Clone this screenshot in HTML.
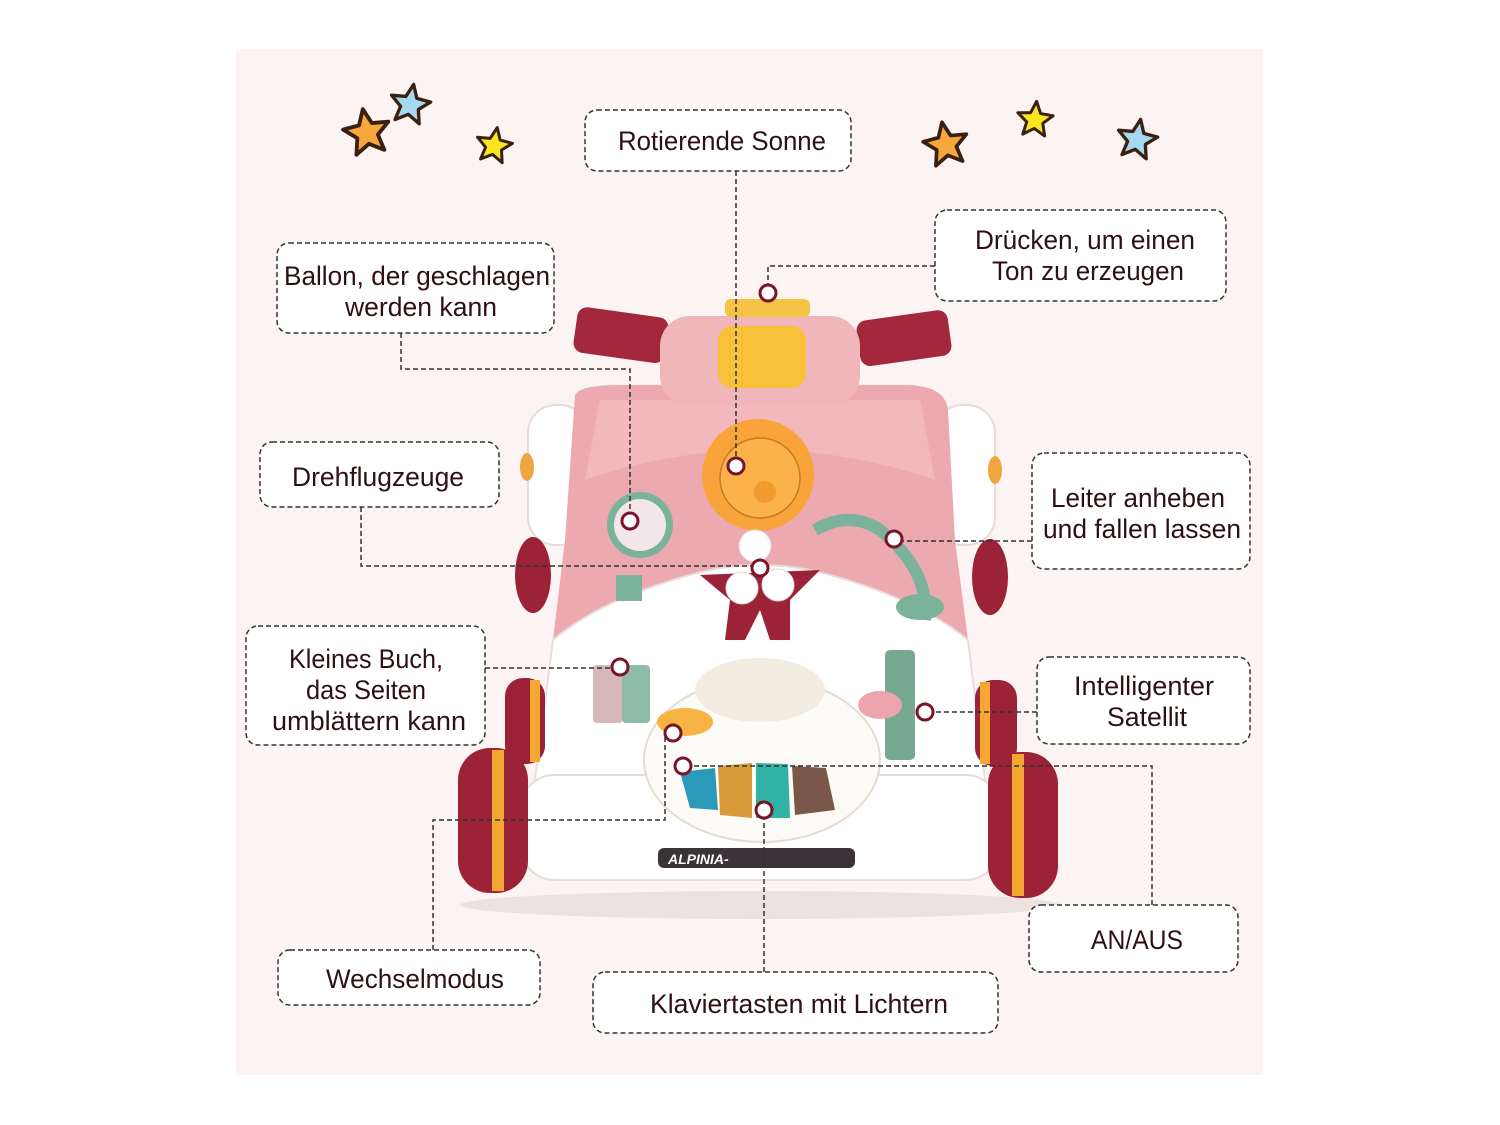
<!DOCTYPE html>
<html><head><meta charset="utf-8"><style>
html,body{margin:0;padding:0;background:#fff;}
svg{display:block;}
text{font-family:"Liberation Sans",sans-serif;fill:#2e1014;font-size:27px;}
</style></head><body>
<svg width="1500" height="1125" viewBox="0 0 1500 1125" xmlns="http://www.w3.org/2000/svg">
<defs>
<polygon id="st" points="0,-22 5.9,-8.1 20.9,-6.8 9.5,3.1 12.9,17.8 0,10 -12.9,17.8 -9.5,3.1 -20.9,-6.8 -5.9,-8.1" stroke="#3a2010" stroke-width="3.5" stroke-linejoin="round"/>
</defs>
<rect x="236" y="49" width="1027" height="1026" fill="#fbf4f3"/>
<use href="#st" fill="#f6a83c" transform="translate(367,133) rotate(-10) scale(1.1)"/>
<use href="#st" fill="#a6d8ef" transform="translate(410,105) rotate(10) scale(0.95)"/>
<use href="#st" fill="#f8e71c" transform="translate(494,146) rotate(10) scale(0.85)"/>
<use href="#st" fill="#f6a83c" transform="translate(946,145) rotate(-10) scale(1.05)"/>
<use href="#st" fill="#f8e71c" transform="translate(1035,120) rotate(5) scale(0.85)"/>
<use href="#st" fill="#a6d8ef" transform="translate(1137,140) rotate(10) scale(0.95)"/>

<ellipse cx="760" cy="905" rx="300" ry="14" fill="#ece2e0"/>
<rect x="575" y="312" width="92" height="46" rx="10" fill="#a4283c" transform="rotate(8 620 335)"/>
<rect x="858" y="315" width="92" height="46" rx="10" fill="#a4283c" transform="rotate(-8 905 338)"/>
<rect x="528" y="405" width="60" height="140" rx="28" fill="#ffffff" stroke="#e6dcda" stroke-width="2"/>
<rect x="935" y="405" width="60" height="140" rx="28" fill="#ffffff" stroke="#e6dcda" stroke-width="2"/>
<ellipse cx="527" cy="467" rx="7" ry="14" fill="#f0a640"/>
<ellipse cx="995" cy="470" rx="7" ry="14" fill="#f0a640"/>
<path d="M575,395 Q580,385 620,385 L905,385 Q945,385 948,410 L955,540 L968,640 L553,640 L565,540 Z" fill="#ecaab0"/>
<path d="M600,400 L920,400 L935,480 Q760,420 585,480 Z" fill="#f2b8bc"/>
<rect x="660" y="316" width="200" height="90" rx="30" fill="#f1b6ba"/>
<rect x="725" y="299" width="85" height="18" rx="6" fill="#f6c444"/>
<rect x="718" y="326" width="88" height="62" rx="14" fill="#f8c13a"/>
<ellipse cx="533" cy="575" rx="18" ry="38" fill="#9c2237"/>
<ellipse cx="990" cy="577" rx="18" ry="38" fill="#9c2237"/>
<path d="M553,640 Q600,600 690,575 Q760,555 830,575 Q920,600 968,640 L985,780 L535,780 Z" fill="#ffffff" stroke="#e8dedc" stroke-width="2"/>
<circle cx="758" cy="475" r="56" fill="#f8a43a"/>
<circle cx="760" cy="478" r="40" fill="#fbb24a" stroke="#c77a20" stroke-width="1.5"/>
<circle cx="765" cy="492" r="11" fill="#f19a2e"/>
<circle cx="640" cy="525" r="33" fill="#7ab29a"/>
<circle cx="640" cy="525" r="26" fill="#f3e6ea"/>
<rect x="616" y="575" width="26" height="26" fill="#7ab29a"/>
<path d="M815,530 Q850,510 880,530 Q930,570 925,620" stroke="#7ab29a" stroke-width="12" fill="none"/>
<ellipse cx="920" cy="607" rx="24" ry="13" fill="#7ab29a"/>
<path d="M700,575 L820,570 L790,600 L790,640 L770,640 L760,610 L745,640 L725,640 L730,600 Z" fill="#9c2237"/>
<circle cx="755" cy="546" r="16" fill="#fff" stroke="#e0d6d6"/>
<circle cx="742" cy="588" r="16" fill="#fff" stroke="#e0d6d6"/>
<circle cx="778" cy="585" r="16" fill="#fff" stroke="#e0d6d6"/>
<rect x="505" y="678" width="40" height="86" rx="18" fill="#9c2237"/>
<rect x="530" y="680" width="10" height="82" fill="#f2a832"/>
<rect x="975" y="680" width="42" height="86" rx="18" fill="#9c2237"/>
<rect x="980" y="682" width="10" height="82" fill="#f2a832"/>
<rect x="593" y="665" width="30" height="58" rx="4" fill="#d7b8b8"/>
<rect x="622" y="665" width="28" height="58" rx="4" fill="#8fbca8"/>
<rect x="885" y="650" width="30" height="110" rx="5" fill="#77a890"/>
<ellipse cx="880" cy="705" rx="22" ry="14" fill="#eea4ac"/>
<rect x="520" y="775" width="480" height="105" rx="35" fill="#ffffff" stroke="#e6dcda" stroke-width="2"/>
<ellipse cx="762" cy="760" rx="118" ry="82" fill="#fdfbf7" stroke="#e4dcd2" stroke-width="2"/>
<ellipse cx="760" cy="690" rx="65" ry="32" fill="#f3ece0"/>
<ellipse cx="685" cy="722" rx="28" ry="14" fill="#f7b442"/>
<path d="M680,772 L715,768 L718,810 L690,808 Z" fill="#2b99b9"/>
<path d="M718,766 L752,763 L752,818 L720,815 Z" fill="#d99a3a"/>
<path d="M756,763 L788,764 L790,818 L756,818 Z" fill="#30b3a5"/>
<path d="M792,766 L826,768 L835,810 L795,815 Z" fill="#7a5748"/>
<rect x="658" y="848" width="197" height="20" rx="6" fill="#3a3438"/>
<text x="668" y="864" style="font-size:14px;font-style:italic;font-weight:bold;fill:#fff">ALPINIA-</text>
<rect x="458" y="748" width="70" height="145" rx="32" fill="#9c2237"/>
<rect x="492" y="750" width="12" height="141" fill="#f2a832"/>
<rect x="988" y="752" width="70" height="146" rx="32" fill="#9c2237"/>
<rect x="1012" y="754" width="12" height="142" fill="#f2a832"/>

<g stroke="#333" stroke-width="1.5" stroke-dasharray="5 3" fill="none">
<path d="M736,171 V466"/>
<path d="M935,266 H768 V293"/>
<path d="M401,333 V369 H630 V521"/>
<path d="M361,507 V566 H760"/>
<path d="M1032,541 H894"/>
<path d="M485,668 H620"/>
<path d="M1037,712 H925"/>
<path d="M1152,905 V766 H683"/>
<path d="M433,950 V820 H665 V733 H673"/>
<path d="M764,972 V810"/>
</g>
<g fill="#fff" stroke="#7a1428" stroke-width="3">
<circle cx="736" cy="466" r="8"/><circle cx="768" cy="293" r="8"/><circle cx="630" cy="521" r="8"/>
<circle cx="760" cy="568" r="8"/><circle cx="894" cy="539" r="8"/><circle cx="620" cy="667" r="8"/>
<circle cx="925" cy="712" r="8"/><circle cx="683" cy="766" r="8"/><circle cx="673" cy="733" r="8"/>
<circle cx="764" cy="810" r="8"/>
</g>

<g fill="#fff" stroke="#333" stroke-width="1.5" stroke-dasharray="5 3">
<rect x="585" y="110" width="266" height="61" rx="12"/>
<rect x="935" y="210" width="291" height="91" rx="12"/>
<rect x="277" y="243" width="277" height="90" rx="12"/>
<rect x="260" y="442" width="239" height="65" rx="12"/>
<rect x="1032" y="453" width="218" height="116" rx="12"/>
<rect x="246" y="626" width="239" height="119" rx="12"/>
<rect x="1037" y="657" width="213" height="87" rx="12"/>
<rect x="1029" y="905" width="209" height="67" rx="12"/>
<rect x="278" y="950" width="262" height="55" rx="12"/>
<rect x="593" y="972" width="405" height="61" rx="12"/>
</g>
<g text-anchor="middle">
<text x="722" y="150" textLength="208" lengthAdjust="spacingAndGlyphs">Rotierende Sonne</text>
<text x="1085" y="249" textLength="220" lengthAdjust="spacingAndGlyphs">Drücken, um einen</text>
<text x="1088" y="280" textLength="192" lengthAdjust="spacingAndGlyphs">Ton zu erzeugen</text>
<text x="417" y="285" textLength="266" lengthAdjust="spacingAndGlyphs">Ballon, der geschlagen</text>
<text x="421" y="316" textLength="152" lengthAdjust="spacingAndGlyphs">werden kann</text>
<text x="378" y="486" textLength="172" lengthAdjust="spacingAndGlyphs">Drehflugzeuge</text>
<text x="1138" y="507" textLength="174" lengthAdjust="spacingAndGlyphs">Leiter anheben</text>
<text x="1142" y="538" textLength="198" lengthAdjust="spacingAndGlyphs">und fallen lassen</text>
<text x="366" y="668" textLength="154" lengthAdjust="spacingAndGlyphs">Kleines Buch,</text>
<text x="366" y="699" textLength="120" lengthAdjust="spacingAndGlyphs">das Seiten</text>
<text x="369" y="730" textLength="194" lengthAdjust="spacingAndGlyphs">umblättern kann</text>
<text x="1144" y="695" textLength="140" lengthAdjust="spacingAndGlyphs">Intelligenter</text>
<text x="1147" y="726" textLength="80" lengthAdjust="spacingAndGlyphs">Satellit</text>
<text x="1137" y="949" textLength="92" lengthAdjust="spacingAndGlyphs">AN/AUS</text>
<text x="415" y="988" textLength="178" lengthAdjust="spacingAndGlyphs">Wechselmodus</text>
<text x="799" y="1013" textLength="298" lengthAdjust="spacingAndGlyphs">Klaviertasten mit Lichtern</text>
</g>
</svg>
</body></html>
